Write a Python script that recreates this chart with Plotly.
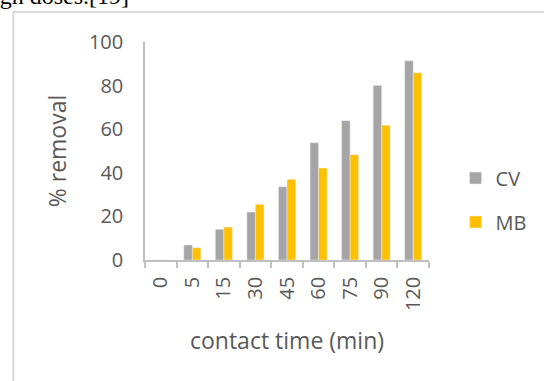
import plotly.graph_objects as go

# contact time categories and removal percentages
times = ["0", "5", "15", "30", "45", "60", "75", "90", "120"]
cv_removal = [0, 6.9, 14.1, 22.0, 33.6, 53.8, 63.9, 80.1, 91.4]
mb_removal = [0, 5.6, 15.1, 25.5, 37.0, 42.2, 48.3, 61.8, 85.9]

W, H = 544, 381
L, R, T, B = 145, 110, 42, 121
pw, ph = W - L - R, H - T - B

def px_x(x):
    return (x - L) / pw

def px_y(y):
    return (H - B - y) / ph

TXT = "#595959"
FONT = "Open Sans"

fig = go.Figure()
fig.add_trace(go.Bar(x=times, y=cv_removal, name="CV", marker_color="#A5A5A5",
                     legendgroup="cv"))
fig.add_trace(go.Bar(x=times, y=mb_removal, name="MB", marker_color="#FFC000",
                     legendgroup="mb"))

fig.update_layout(
    width=W, height=H,
    margin=dict(l=L, r=R, t=T, b=B, pad=0),
    paper_bgcolor="white", plot_bgcolor="white",
    barmode="group", bargap=0.46, bargroupgap=0,
    font=dict(family=FONT, color=TXT, size=20),
    legend=dict(x=px_x(461), xanchor="left", y=px_y(200), yanchor="middle",
                font=dict(size=20, color=TXT), tracegroupgap=15,
                bgcolor="rgba(0,0,0,0)"),
    xaxis=dict(
        type="category", showgrid=False, showline=True, linecolor="#BFBFBF",
        linewidth=1.5, ticks="outside", tickson="boundaries", ticklen=6,
        tickcolor="#BFBFBF", tickwidth=1.5, tickangle=-90,
        ticklabelstandoff=7,
        tickfont=dict(size=20, color=TXT),
        title=dict(text="contact time (min)", font=dict(size=23, color=TXT),
                   standoff=23),
    ),
    yaxis=dict(
        range=[0, 100], dtick=20, showgrid=False, zeroline=False,
        showline=True, linecolor="#BFBFBF", linewidth=1.5, ticks="",
        ticklabelstandoff=16, tickfont=dict(size=20, color=TXT),
        title=dict(text="% removal", font=dict(size=23, color=TXT), standoff=16),
    ),
)

# outer chart frame
fig.add_shape(type="rect", xref="paper", yref="paper",
              x0=px_x(11), y0=px_y(400), x1=px_x(560), y1=px_y(12),
              line=dict(color="#D9D9D9", width=2), fillcolor="rgba(0,0,0,0)",
              layer="below")

# running text of the page above the chart
fig.add_annotation(text="high doses.[19]", xref="paper", yref="paper",
                   x=px_x(-24), y=px_y(11), xanchor="left", yanchor="bottom",
                   showarrow=False,
                   font=dict(family="Liberation Serif", size=24, color="black"))

fig.write_html("out.html")
